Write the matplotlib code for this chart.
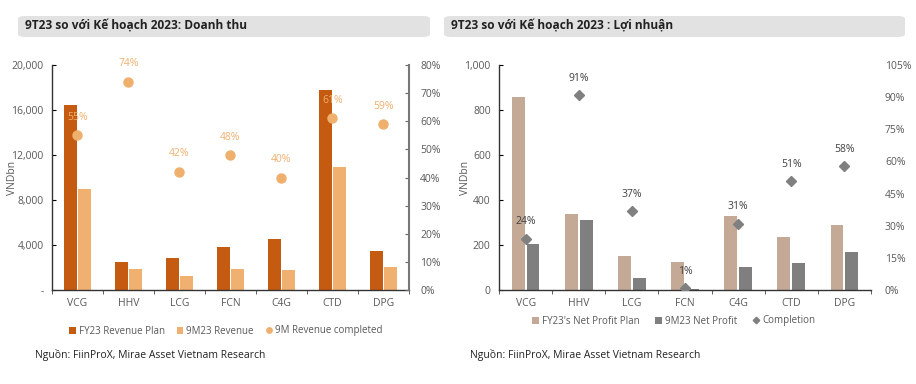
import matplotlib
matplotlib.use("Agg")
import matplotlib.pyplot as plt
import numpy as np
from matplotlib.patches import FancyBboxPatch
from matplotlib.ticker import FuncFormatter, MultipleLocator

plt.rcParams["font.family"] = ["Open Sans", "DejaVu Sans"]

TICKERS = ["VCG", "HHV", "LCG", "FCN", "C4G", "CTD", "DPG"]

# revenue chart (VND bn)
REV_PLAN = [16400, 2500, 2850, 3800, 4550, 17800, 3450]
REV_9M = [8950, 1850, 1250, 1850, 1800, 10900, 2050]
REV_DONE = [55, 74, 42, 48, 40, 61, 59]

# profit chart (VND bn)
NP_PLAN = [860, 340, 150, 125, 330, 235, 290]
NP_9M = [205, 310, 55, 3, 103, 120, 168]
NP_DONE = [24, 91, 37, 1, 31, 51, 58]

TICK_GRAY = "#595959"
DARK_ORANGE = "#C55A11"
LIGHT_ORANGE = "#F0B070"
DOT_ORANGE = "#EFB06E"
TAN = "#C4AA96"
GRAY = "#7F7F7F"
DIAMOND = "#808080"

W, H = 916, 384


def px_axes(fig, x0, y0, x1, y1):
    return fig.add_axes([x0 / W, 1 - y1 / H, (x1 - x0) / W, (y1 - y0) / H])


def title_box(fig, x0, y0, x1, y1, text):
    box = FancyBboxPatch(
        (x0 / W, 1 - y1 / H), (x1 - x0) / W, (y1 - y0) / H,
        boxstyle="round,pad=0,rounding_size=0.008",
        transform=fig.transFigure, fc="#E2E2E2", ec="none",
    )
    fig.patches.append(box)
    fig.text((x0 + 7) / W, 1 - (y0 + y1) / 2 / H, text, va="center", ha="left",
             fontsize=8.6, fontweight="bold", color="#222222")


def format_base(ax, ymax, ystep, fmt, label_x):
    n = len(TICKERS)
    x = np.arange(n)
    ax.set_xlim(-0.5, n - 0.5)
    ax.set_ylim(0, ymax)
    ax.yaxis.set_major_locator(MultipleLocator(ystep))
    ax.yaxis.set_major_formatter(FuncFormatter(fmt))
    ax.set_xticks(x)
    ax.set_xticklabels(TICKERS)
    ax.set_xticks(np.arange(n + 1) - 0.5, minor=True)
    ax.tick_params(axis="x", which="major", length=0, pad=6, labelsize=7.5,
                   labelcolor=TICK_GRAY)
    ax.tick_params(axis="x", which="minor", length=3, direction="out", color="#444444")
    ax.tick_params(axis="y", direction="in", length=3, labelsize=7.5,
                   labelcolor=TICK_GRAY, pad=6)
    ax.spines["top"].set_visible(False)
    ax.spines["right"].set_visible(False)
    for s in ("left", "bottom"):
        ax.spines[s].set_color("#333333")
        ax.spines[s].set_linewidth(1)
    ax.set_ylabel("VNDbn", fontsize=7.5, color=TICK_GRAY)
    ax.yaxis.set_label_coords(label_x, 0.5)
    ax.patch.set_alpha(0)
    return x


def thousands(v, pos):
    return "-" if v == 0 else f"{v:,.0f}"


fig = plt.figure(figsize=(W / 100, H / 100), dpi=100)

# ---------- left: revenue ----------
title_box(fig, 18, 16, 430, 37, "9T23 so với Kế hoạch 2023: Doanh thu")

ax1 = px_axes(fig, 52, 65, 409, 290)
x = format_base(ax1, 20000, 4000, thousands, -0.095)
bw = 0.25
b1 = ax1.bar(x - 0.13, REV_PLAN, width=bw, color=DARK_ORANGE, zorder=2)
b2 = ax1.bar(x + 0.13, REV_9M, width=bw, color=LIGHT_ORANGE, zorder=2)

ax1r = ax1.twinx()
ax1r.set_ylim(0, 80)
ax1r.yaxis.set_major_locator(MultipleLocator(10))
ax1r.yaxis.set_major_formatter(FuncFormatter(lambda v, p: f"{v:.0f}%"))
ax1r.tick_params(axis="y", direction="in", length=3, labelsize=7.5,
                 labelcolor=TICK_GRAY, color="#666666", pad=8)
for s in ("top", "left", "bottom"):
    ax1r.spines[s].set_visible(False)
ax1r.spines["right"].set_color("#777777")
ax1r.spines["right"].set_linewidth(1.5)
d1, = ax1r.plot(x, REV_DONE, ls="none", marker="o", ms=6.5, color=DOT_ORANGE, zorder=3)
for xi, v in zip(x, REV_DONE):
    ax1r.annotate(f"{v}%", (xi, v), xytext=(0, 9), textcoords="offset points",
                  ha="center", va="bottom", fontsize=7.5, color=DOT_ORANGE)

fig.legend([b1, b2, d1], ["FY23 Revenue Plan", "9M23 Revenue", "9M Revenue completed"],
           loc="center", bbox_to_anchor=(226 / W, 1 - 331 / H), ncol=3, frameon=False,
           fontsize=7, handlelength=0.7, handleheight=0.7, handletextpad=0.3,
           columnspacing=1.2, labelcolor=TICK_GRAY, markerscale=0.6)
fig.text(35 / W, 1 - 355 / H, "Nguồn: FiinProX, Mirae Asset Vietnam Research",
         fontsize=7.5, color="#222222", va="center")

# ---------- right: net profit ----------
title_box(fig, 444, 16, 905, 37, "9T23 so với Kế hoạch 2023 : Lợi nhuận")

ax2 = px_axes(fig, 499, 65, 871, 290)
x = format_base(ax2, 1000, 200, lambda v, p: f"{v:,.0f}", -0.075)
bw = 0.24
p1 = ax2.bar(x - 0.14, NP_PLAN, width=bw, color=TAN, zorder=2)
p2 = ax2.bar(x + 0.14, NP_9M, width=bw, color=GRAY, zorder=2)

ax2r = ax2.twinx()
ax2r.set_ylim(0, 105)
ax2r.yaxis.set_major_locator(MultipleLocator(15))
ax2r.yaxis.set_major_formatter(FuncFormatter(lambda v, p: f"{v:.0f}%"))
ax2r.tick_params(axis="y", length=0, labelsize=7.5, labelcolor=TICK_GRAY, pad=10)
for s in ax2r.spines.values():
    s.set_visible(False)
d2, = ax2r.plot(x, NP_DONE, ls="none", marker="D", ms=5.5, color=DIAMOND, zorder=3)
for xi, v in zip(x, NP_DONE):
    ax2r.annotate(f"{v}%", (xi, v), xytext=(0, 8), textcoords="offset points",
                  ha="center", va="bottom", fontsize=7.5, color="#404040")

fig.legend([p1, p2, d2], ["FY23's Net Profit Plan", "9M23 Net Profit", "Completion"],
           loc="center", bbox_to_anchor=(674 / W, 1 - 321 / H), ncol=3, frameon=False,
           fontsize=7, handlelength=0.7, handleheight=0.7, handletextpad=0.3,
           columnspacing=1.6, labelcolor=TICK_GRAY, markerscale=0.6)
fig.text(470 / W, 1 - 355 / H, "Nguồn: FiinProX, Mirae Asset Vietnam Research",
         fontsize=7.5, color="#222222", va="center")

fig.savefig("out.png", dpi=100)
